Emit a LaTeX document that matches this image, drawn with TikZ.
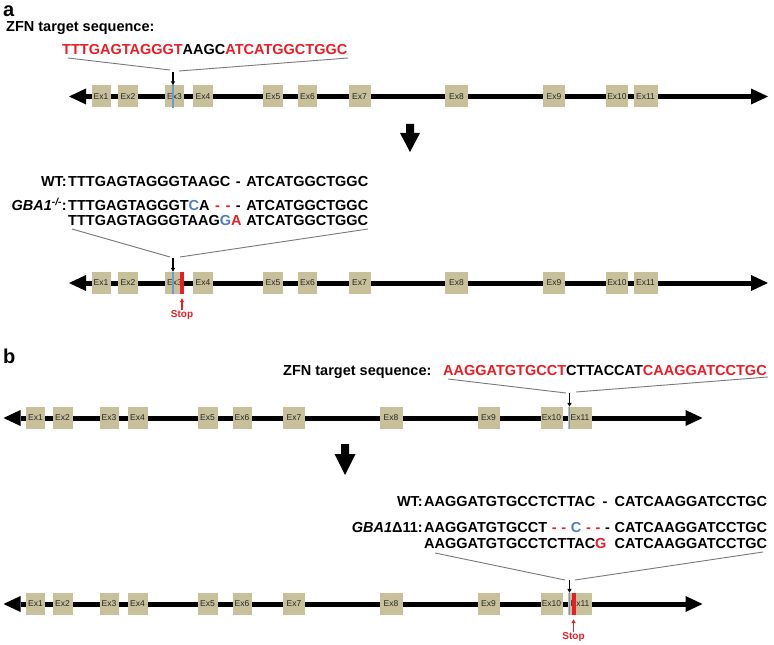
\documentclass[tikz,border=0pt]{standalone}
\usepackage{fontspec}
\setmainfont{Liberation Sans}
\usetikzlibrary{arrows.meta}
\definecolor{seqred}{RGB}{236,28,36}
\definecolor{seqblue}{RGB}{74,126,193}
\definecolor{cutblue}{RGB}{110,155,205}
\definecolor{tanbox}{RGB}{200,192,155}
\definecolor{zoomgray}{RGB}{120,120,120}
\newcommand\sqred[1]{\textcolor{seqred}{#1}}
\newcommand\sqblue[1]{\textcolor{seqblue}{#1}}
\newcommand\generow[3]{%
  \begin{scope}[shift={(#2,#3)}]
    \coordinate (#1L) at (69,0);
    \coordinate (#1R) at (768,0);
    \draw[backbone] (#1L) -- (#1R);
    \foreach \n/\c/\w in {1/101/19,2/128/20,3/174.5/19,4/203/20,5/273/20,6/307.5/19,7/359.5/22,8/456.5/23,9/554/22,10/617/22,11/645.5/24}
      {\node[exon,minimum width=\w bp] (#1e\n) at (\c,0) {Ex\n};}
  \end{scope}}
\begin{document}
\begin{tikzpicture}[x=1bp,y=-1bp,
  backbone/.style={line width=5bp,arrows={Triangle[length=17bp,width=16bp,line width=0pt]-Triangle[length=17bp,width=16bp,line width=0pt]}},
  exon/.style={rectangle,fill=tanbox,inner sep=0pt,minimum height=22bp,text=black!85,font=\fontsize{8.5bp}{9bp}\selectfont},
  seq/.style={inner sep=0pt,anchor=base west,font=\fontsize{14.5bp}{16bp}\selectfont\bfseries},
  seqlabel/.style={inner sep=0pt,anchor=base east,font=\fontsize{14.5bp}{16bp}\selectfont\bfseries},
  panel/.style={inner sep=0pt,anchor=base west,font=\fontsize{20bp}{24bp}\selectfont\bfseries},
  zoomline/.style={draw=zoomgray,line width=0.9bp},
  cutarrow/.style={line width=1.1bp,-{Triangle[length=4bp,width=4bp]}},
  cutline/.style={draw=cutblue,line width=1.5bp},
  stoparrow/.style={draw=seqred,line width=1.1bp,-{Triangle[length=4bp,width=4bp]}},
  stoplabel/.style={inner sep=0pt,text=seqred,font=\fontsize{10bp}{11bp}\selectfont\bfseries},
  bigarrow/.style={fill=black}
]
\useasboundingbox (0,0) rectangle (774,645);

% ---------------- panel a ----------------
\node[panel] (la) at (3,17) {a};
\node[seq] (zfnA) at (6,31.9) {ZFN target sequence:};
\node[seq] (seqA) at (62,55) {\sqred{TTTGAGTAGGGT}AAGC\sqred{ATCATGGCTGGC}};

\generow{A1}{0}{96.5}
\coordinate (A1p) at (173,72);
\coordinate (A1cl) at (68,58);
\coordinate (A1ml) at (170,70);
\coordinate (A1mr) at (179,71);
\coordinate (A1cr) at (348,58);
\draw[zoomline] (A1cl) -- (A1ml);
\draw[zoomline] (A1mr) -- (A1cr);
\draw[cutline] (A1e3.north -| A1p) -- (A1e3.south -| A1p);
\draw[cutarrow] (A1p) -- (A1p |- A1e3.north);

\fill[bigarrow] (406,124) -- (414,124) -- (414,133) -- (420,133) -- (410,152) -- (400,133) -- (406,133) -- cycle;

\node[seqlabel] (wtA) at (67,186.7) {WT:};
\node[seq] (wtseqA) at (68,186.7) {\makebox[300bp][l]{TTTGAGTAGGGTAAGC\hfill-\hfill ATCATGGCTGGC}};
\node[seqlabel] (gbaA) at (67,211) {\textit{GBA1\textsuperscript{-/-}}:};
\node[seq] (m1A) at (68,211) {\makebox[300bp][l]{TTTGAGTAGGGT\sqblue{C}A\hfill\sqred{-}\hfill\sqred{-}\hfill-\hfill ATCATGGCTGGC}};
\node[seq] (m2A) at (68,226) {\makebox[300bp][l]{TTTGAGTAGGGTAAG\sqblue{G}\sqred{A}\hfill ATCATGGCTGGC}};

\generow{A2}{0}{283}
\coordinate (A2p) at (173,258);
\coordinate (A2cl) at (72,229);
\coordinate (A2ml) at (170,257);
\coordinate (A2mr) at (180,257);
\coordinate (A2cr) at (368,229);
\coordinate (A2s) at (182,0);
\draw[zoomline] (A2cl) -- (A2ml);
\draw[zoomline] (A2mr) -- (A2cr);
\draw[cutline] (A2e3.north -| A2p) -- (A2e3.south -| A2p);
\fill[seqred] ([xshift=-2bp]A2e3.north -| A2s) rectangle ([xshift=2bp]A2e3.south -| A2s);
\draw[cutarrow] (A2p) -- (A2p |- A2e3.north);
\node[stoplabel] (stopA) at (182,315) {Stop};
\draw[stoparrow] (stopA.north) -- ([yshift=-4bp]stopA.north |- A2e3.south);

% ---------------- panel b ----------------
\node[panel] (lb) at (3,363) {b};
\node[seq] (zfnB) at (283,375) {ZFN target sequence:};
\node[seq] (seqB) at (443,375) {\sqred{AAGGATGTGCCT}CTTACCAT\sqred{CAAGGATCCTGC}};

\generow{B1}{-65.5}{418}
\coordinate (B1p) at (569.5,393);
\coordinate (B1cl) at (448,379);
\coordinate (B1ml) at (566,393);
\coordinate (B1mr) at (576,392);
\coordinate (B1cr) at (768,377);
\draw[zoomline] (B1cl) -- (B1ml);
\draw[zoomline] (B1mr) -- (B1cr);
\draw[cutline] (B1e11.north -| B1p) -- (B1e11.south -| B1p);
\draw[cutarrow] (B1p) -- (B1p |- B1e11.north);

\fill[bigarrow] (341,444) -- (349,444) -- (349,454) -- (355.5,454) -- (345,475) -- (334.5,454) -- (341,454) -- cycle;

\node[seqlabel] (wtB) at (423,506.7) {WT:};
\node[seq] (wtseqB) at (424,506.7) {\makebox[343bp][l]{AAGGATGTGCCTCTTAC\hfill-\hfill CATCAAGGATCCTGC}};
\node[seqlabel] (gbaB) at (423,532.7) {\textit{GBA1}Δ11:};
\node[seq] (m1B) at (424,532.7) {\makebox[343bp][l]{AAGGATGTGCCT\hfill\sqred{-}\hfill\sqred{-}\hfill\sqblue{C}\hfill\sqred{-}\hfill\sqred{-}\hfill-\hfill CATCAAGGATCCTGC}};
\node[seq] (m2B) at (424,548.3) {\makebox[343bp][l]{AAGGATGTGCCTCTTAC\sqred{G}\hfill CATCAAGGATCCTGC}};

\generow{B2}{-65.5}{604}
\coordinate (B2p) at (569.5,580);
\coordinate (B2cl) at (435,553);
\coordinate (B2ml) at (565,580);
\coordinate (B2mr) at (575,580);
\coordinate (B2cr) at (763,552);
\coordinate (B2s) at (573.5,0);
\draw[zoomline] (B2cl) -- (B2ml);
\draw[zoomline] (B2mr) -- (B2cr);
\draw[cutline] (B2e11.north -| B2p) -- (B2e11.south -| B2p);
\fill[seqred] ([xshift=-2bp]B2e11.north -| B2s) rectangle ([xshift=2bp]B2e11.south -| B2s);
\draw[cutarrow] (B2p) -- (B2p |- B2e11.north);
\node[stoplabel] (stopB) at (573.5,637) {Stop};
\draw[stoparrow] (stopB.north) -- ([yshift=-4bp]stopB.north |- B2e11.south);
\end{tikzpicture}
\end{document}
